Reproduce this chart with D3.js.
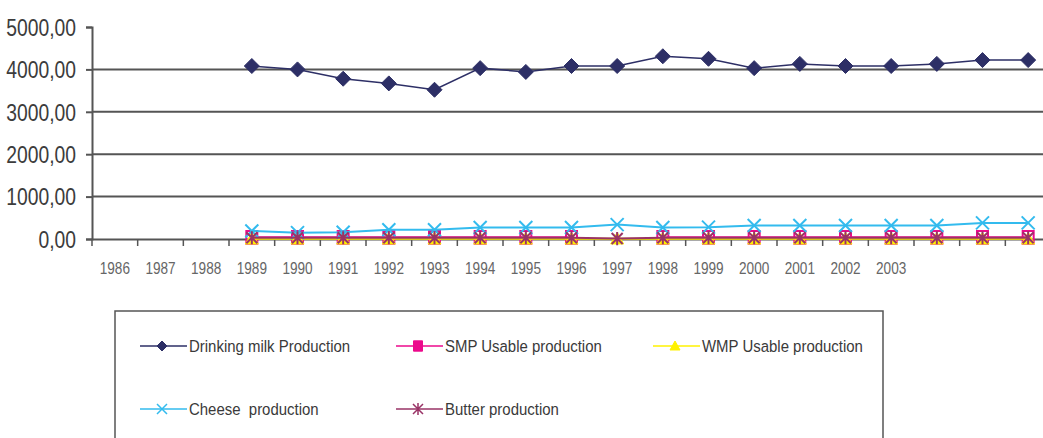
<!DOCTYPE html>
<html>
<head>
<meta charset="utf-8">
<script src="https://cdn.jsdelivr.net/npm/d3@7"></script>
<style>
  html, body { margin: 0; padding: 0; background: #fff; }
  svg { display: block; font-family: "Liberation Sans", Arial, sans-serif; }
  .legend-text { white-space: pre; }
</style>
</head>
<body>
<svg id="chart" width="1043" height="438"></svg>
<script>
// ---------- data ----------
const categories = ["1986","1987","1988","1989","1990","1991","1992","1993","1994","1995","1996",
                    "1997","1998","1999","2000","2001","2002","2003","2004","2005","2006"];
const categoryLabels = ["1986","1987","1988","1989","1990","1991","1992","1993","1994","1995","1996",
                        "1997","1998","1999","2000","2001","2002","2003","","",""];
const yTicks = [0, 1000, 2000, 3000, 4000, 5000];
const gridValues = [1000, 2000, 3000, 4000];

const drinkingMilk = [null,null,null,4080,4000,3780,3670,3520,4030,3940,4080,4080,4310,4250,4030,4130,4080,4080,4130,4220,4220];
const smpUsable    = [null,null,null,40,40,40,40,40,40,40,40,null,40,40,40,40,40,40,40,40,40];
const wmpUsable    = [null,null,null,5,5,5,5,5,5,5,5,5,5,5,5,5,5,5,5,5,5];
const cheese       = [null,null,null,190,150,160,220,220,270,270,270,340,270,280,320,320,320,320,320,380,380];
const butter       = [null,null,null,30,30,30,30,30,30,30,30,10,30,30,30,30,30,30,30,30,30];

const seriesNames = ["Drinking milk Production","SMP Usable production","WMP Usable production","Cheese  production","Butter production"];

// ---------- layout ----------
const svg = d3.select("#chart");
const plot = { left: 92, right: 1051, top: 27, bottom: 239 };

const x = d3.scaleBand().domain(categories).range([plot.left, plot.right]).padding(0);
const y = d3.scaleLinear().domain([0, 5000]).range([plot.bottom, plot.top]);

// gridlines
svg.append("g").selectAll("line").data(gridValues).join("line")
  .attr("x1", plot.left).attr("x2", plot.right)
  .attr("y1", d => y(d)).attr("y2", d => y(d))
  .attr("stroke", "#555").attr("stroke-width", 2);

// y axis
const yAxis = svg.append("g").attr("transform", `translate(${plot.left},0)`)
  .call(d3.axisLeft(y).tickValues(yTicks).tickSize(6).tickPadding(10).tickFormat(d => d3.format(".2f")(d).replace(".", ",")));
yAxis.select(".domain").attr("stroke", "#555").attr("stroke-width", 2);
yAxis.selectAll(".tick line").attr("stroke", "#555").attr("stroke-width", 2);
yAxis.selectAll(".tick text")
  .attr("fill", "#3c3c3c").attr("font-size", 23).attr("dy", "0.36em")
  .each(function() {
    const t = d3.select(this);
    const xx = +t.attr("x");
    t.attr("x", null).attr("transform", `translate(${xx},0) scale(0.84,1)`);
  });

// x axis
const xAxis = svg.append("g").attr("transform", `translate(0,${plot.bottom})`)
  .call(d3.axisBottom(x).tickSize(0).tickPadding(0).tickFormat((d, i) => categoryLabels[i]));
xAxis.select(".domain").attr("stroke", "#555").attr("stroke-width", 2);
xAxis.selectAll(".tick text")
  .attr("fill", "#666").attr("font-size", 17).attr("dy", null).attr("y", null)
  .attr("transform", "translate(0,35) scale(0.8,1)");
// ticks at category boundaries
svg.append("g").selectAll("line").data(categories).join("line")
  .attr("x1", d => x(d)).attr("x2", d => x(d))
  .attr("y1", plot.bottom).attr("y2", plot.bottom + 7)
  .attr("stroke", "#555").attr("stroke-width", 1.5);

// ---------- series ----------
const cx = (d, i) => x(categories[i]) + x.bandwidth() / 2;
const markerPaths = {
  diamond: s => `M0,${-s}L${s},0L0,${s}L${-s},0Z`,
  square: s => `M${-s},${-s*1.15}H${s}V${s*1.15}H${-s}Z`,
  triangle: s => `M0,${-s}L${s},${s*0.8}L${-s},${s*0.8}Z`,
  cross: s => `M${-s},${-s}L${s},${s}M${s},${-s}L${-s},${s}`,
  star: s => `M${-s},${-s}L${s},${s}M${s},${-s}L${-s},${s}M0,${-s*1.2}V${s*1.2}`
};
const seriesDefs = [
  { name: seriesNames[0], values: drinkingMilk, color: "#2d2f66", marker: "diamond", size: 7.5, fill: true, lw: 1.5 },
  { name: seriesNames[1], values: smpUsable, color: "#ec0a8c", marker: "square", size: 5.5, fill: false, lw: 2 },
  { name: seriesNames[2], values: wmpUsable, color: "#fff200", marker: "triangle", size: 6.5, fill: true, lw: 2 },
  { name: seriesNames[3], values: cheese, color: "#33bbee", marker: "cross", size: 6.5, fill: false, lw: 2 },
  { name: seriesNames[4], values: butter, color: "#993366", marker: "star", size: 5.5, fill: false, lw: 2 }
];

seriesDefs.forEach(s => {
  const line = d3.line().defined(d => d != null).x(cx).y(d => y(d));
  svg.append("path").datum(s.values)
    .attr("d", line).attr("fill", "none")
    .attr("stroke", s.color).attr("stroke-width", s.lw);
  svg.append("g").selectAll("path")
    .data(s.values.map((v, i) => ({ v, i })).filter(d => d.v != null))
    .join("path")
    .attr("transform", d => `translate(${cx(d.v, d.i)},${y(d.v)})`)
    .attr("d", markerPaths[s.marker](s.size))
    .attr("fill", s.fill ? s.color : "none")
    .attr("stroke", s.color).attr("stroke-width", s.fill ? 1 : 2);
});

// ---------- legend ----------
const legend = svg.append("g");
legend.append("rect")
  .attr("x", 115).attr("y", 311).attr("width", 768).attr("height", 200)
  .attr("fill", "none").attr("stroke", "#555").attr("stroke-width", 1.5);
const legendPos = [[140, 346], [396, 346], [653, 346], [140, 409], [396, 409]];
const legendMarkerSize = [5, 4.5, 5, 5, 5];
seriesDefs.forEach((s, i) => {
  const [lx, ly] = legendPos[i];
  const g = legend.append("g").attr("transform", `translate(${lx},${ly})`);
  g.append("line").attr("x1", 0).attr("x2", 47).attr("y1", 0).attr("y2", 0)
    .attr("stroke", s.color).attr("stroke-width", 1.5);
  g.append("path").attr("transform", "translate(22,0)")
    .attr("d", markerPaths[s.marker](legendMarkerSize[i]))
    .attr("fill", s.marker === "square" || s.fill ? s.color : "none")
    .attr("stroke", s.color).attr("stroke-width", s.fill || s.marker === "square" ? 1 : 1.5);
  g.append("text").attr("class", "legend-text").attr("transform", "translate(49,6) scale(0.88,1)")
    .attr("font-size", 17).attr("fill", "#3a3a3a").text(s.name);
});
</script>
</body>
</html>
